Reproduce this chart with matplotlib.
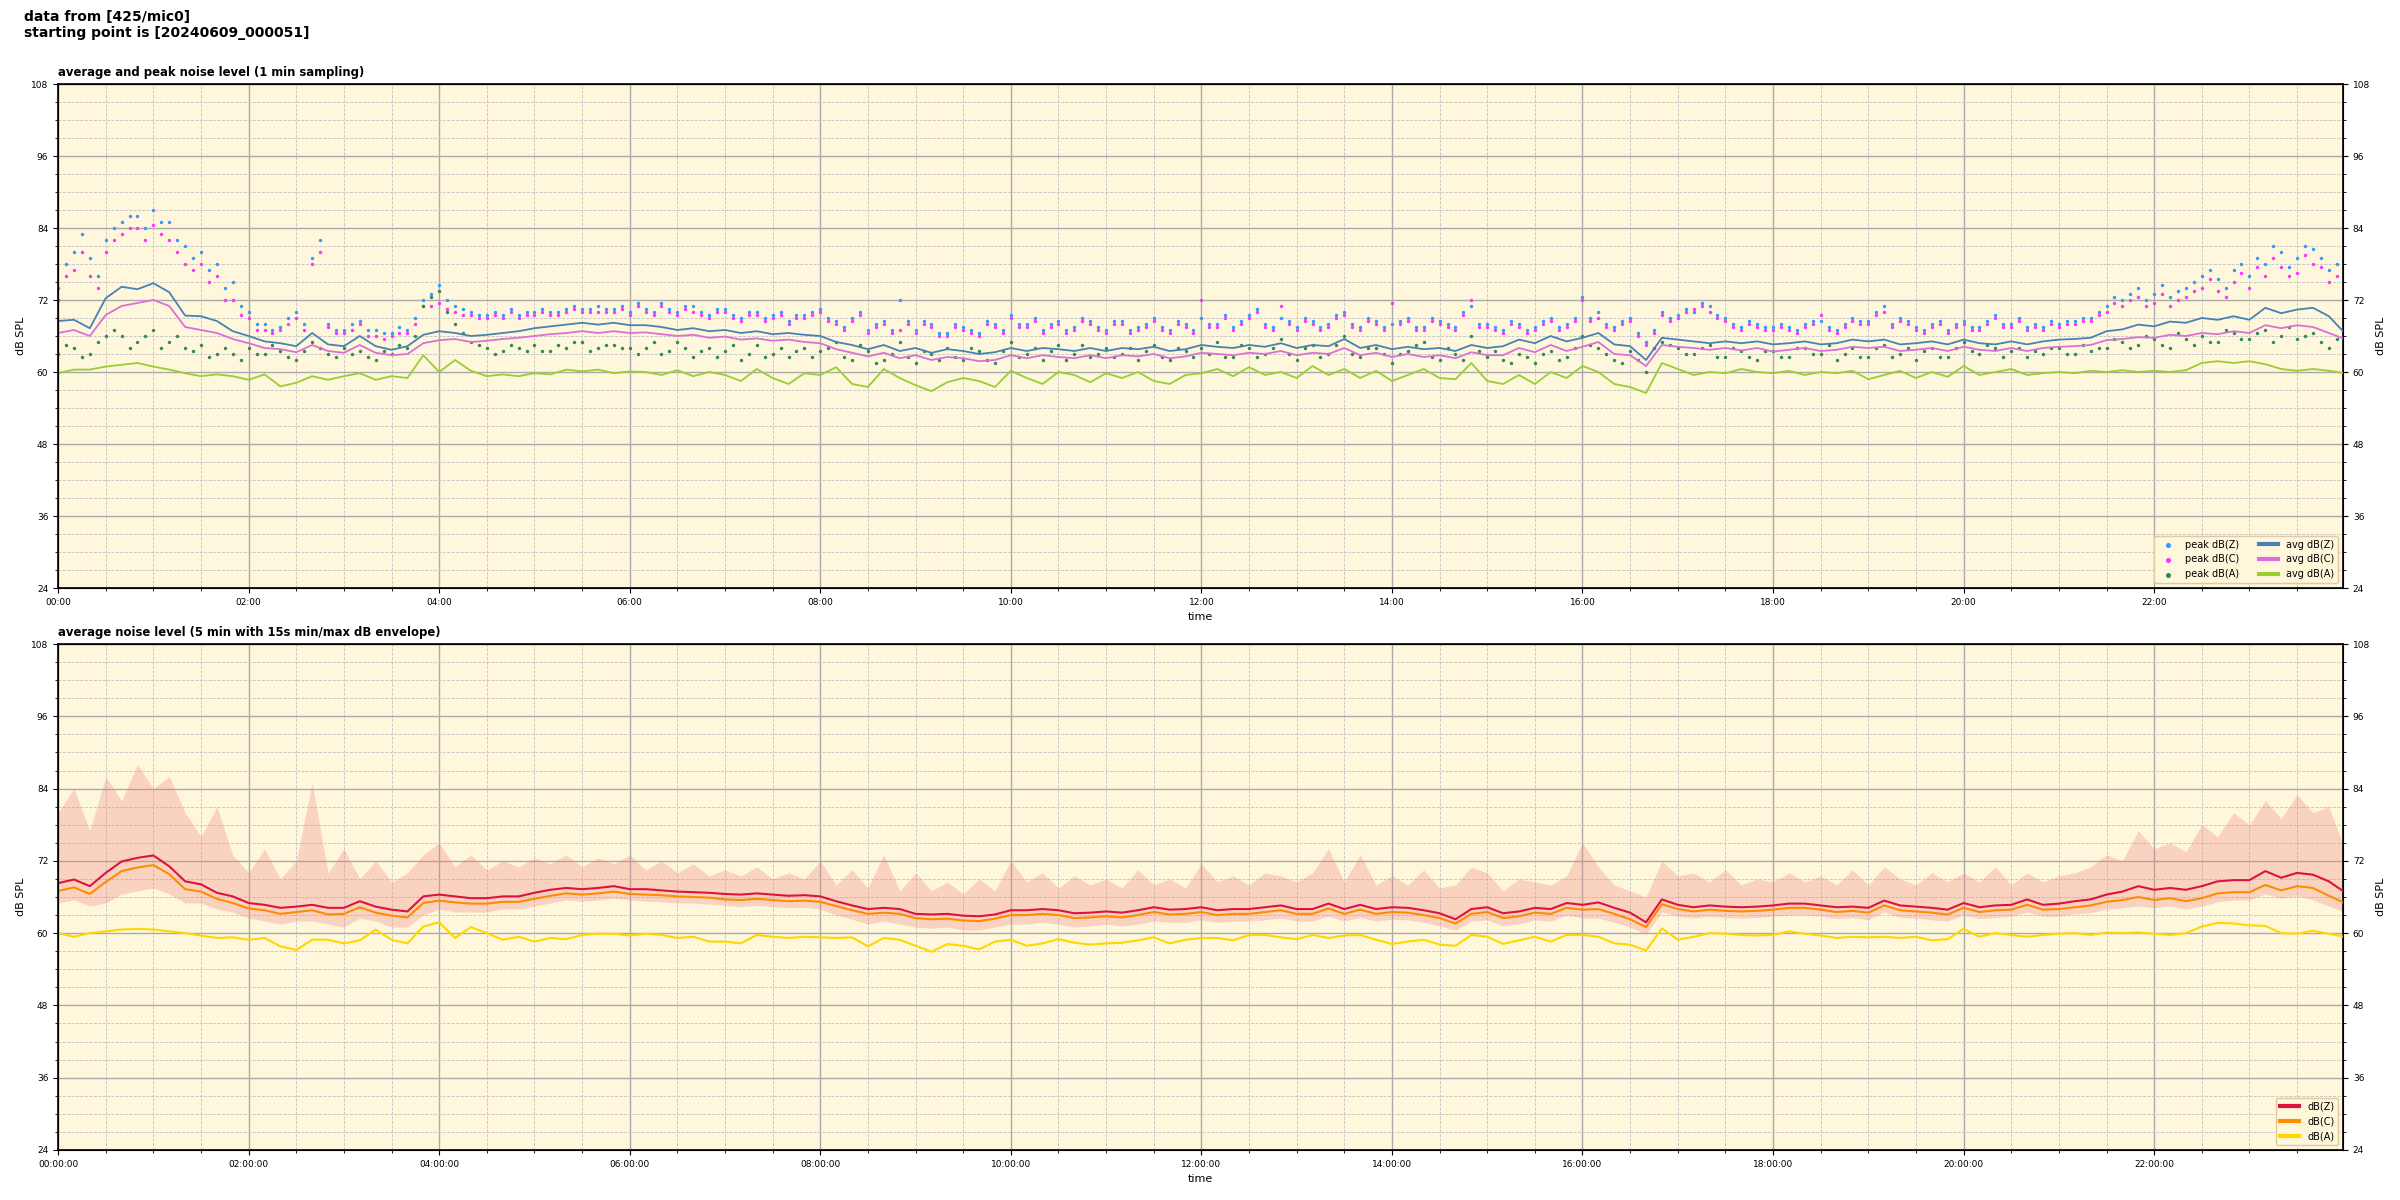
import matplotlib
matplotlib.use("Agg")
import matplotlib.pyplot as plt
import matplotlib.dates as mdates
from matplotlib.ticker import MultipleLocator
import pandas as pd

# sample times: every 10 minutes over the day (145 points, 00:00 .. 24:00)
times = pd.date_range("2024-06-09 00:00", "2024-06-10 00:00", freq="10min")
# extra peak readings taken halfway between (00:05 .. 23:55)
times_mid = pd.date_range("2024-06-09 00:05", "2024-06-09 23:55", freq="10min")

# ---- top panel: 1 min sampling (read at 10 min steps) ----
avg_z = [
    68.5, 68.7, 67.3, 72.3, 74.2, 73.8,
    74.8, 73.3, 69.4, 69.3, 68.5, 66.8,
    66.0, 65.1, 64.8, 64.3, 66.5, 64.6,
    64.3, 66.0, 64.3, 63.7, 64.3, 66.2,
    66.8, 66.5, 66.0, 66.2, 66.5, 66.8,
    67.3, 67.6, 67.9, 68.2, 67.9, 68.2,
    67.8, 67.8, 67.5, 67.0, 67.3, 66.8,
    67.0, 66.5, 66.8, 66.3, 66.5, 66.2,
    66.0, 65.0, 64.5, 63.8, 64.5, 63.5,
    64.0, 63.2, 63.8, 63.5, 63.0, 63.3,
    64.0, 63.5, 64.0, 63.8, 63.5, 64.0,
    63.5, 64.0, 63.8, 64.2, 63.5, 63.8,
    64.5, 64.2, 64.0, 64.5, 64.2, 64.8,
    64.0, 64.5, 64.3, 65.5, 64.0, 64.5,
    63.8, 64.2, 63.8, 64.0, 63.5, 64.5,
    64.0, 64.3, 65.4, 64.8, 66.0, 65.1,
    65.7, 66.5, 64.6, 64.3, 62.0, 65.7,
    65.4, 65.1, 64.8, 65.1, 64.8, 65.1,
    64.6, 64.8, 65.1, 64.6, 64.8, 65.4,
    65.1, 65.4, 64.6, 64.8, 65.1, 64.6,
    65.4, 64.8, 64.6, 65.1, 64.6, 65.1,
    65.4, 65.5, 65.7, 66.8, 67.1, 67.9,
    67.6, 68.4, 68.2, 69.0, 68.7, 69.3,
    68.7, 70.7, 69.8, 70.4, 70.7, 69.3,
    66.5,
]
avg_c = [
    66.5, 67.0, 66.0, 69.5, 71.0, 71.5,
    72.0, 71.0, 67.5, 67.0, 66.5, 65.5,
    64.8, 64.0, 63.8, 63.3, 64.5, 63.5,
    63.2, 64.5, 63.2, 62.8, 63.0, 64.8,
    65.3, 65.5, 65.0, 65.2, 65.5, 65.7,
    66.0, 66.3, 66.5, 66.8, 66.5, 66.8,
    66.5, 66.6, 66.3, 66.0, 66.2, 65.7,
    65.9, 65.4, 65.6, 65.2, 65.4, 65.0,
    64.8, 63.8, 63.2, 62.6, 63.2, 62.3,
    62.8, 62.0, 62.5, 62.3, 61.8, 62.0,
    62.8, 62.3, 62.8, 62.5, 62.3, 62.8,
    62.3, 62.8, 62.6, 63.0, 62.3, 62.6,
    63.2, 63.0, 62.8, 63.2, 63.0, 63.5,
    62.8, 63.2, 63.0, 64.0, 62.8, 63.2,
    62.5, 63.0, 62.5, 62.8, 62.3, 63.3,
    62.8, 62.8, 64.0, 63.3, 64.5, 63.5,
    64.2, 65.0, 63.0, 62.8, 61.0, 64.5,
    64.2, 64.0, 63.7, 64.0, 63.6, 64.0,
    63.4, 63.7, 64.0, 63.5, 63.7, 64.2,
    64.0, 64.2, 63.5, 63.7, 64.0, 63.5,
    64.2, 63.7, 63.5, 64.0, 63.5, 64.0,
    64.2, 64.3, 64.5, 65.3, 65.5, 65.8,
    65.7, 66.2, 66.0, 66.5, 66.3, 66.8,
    66.5, 67.8, 67.3, 67.8, 67.5, 66.5,
    65.5,
]
avg_a = [
    59.8, 60.4, 60.4, 60.9, 61.2, 61.5,
    60.9, 60.4, 59.8, 59.3, 59.6, 59.3,
    58.7, 59.6, 57.6, 58.2, 59.3, 58.7,
    59.3, 59.8, 58.7, 59.3, 59.0, 62.8,
    60.0, 62.0, 60.2, 59.3, 59.6, 59.3,
    59.8, 59.6, 60.4, 60.1, 60.4, 59.8,
    60.1, 60.0, 59.5, 60.3, 59.3, 60.0,
    59.5, 58.5, 60.5, 59.0, 58.0, 59.8,
    59.5, 60.8, 58.0, 57.5, 60.5, 59.0,
    57.8, 56.8, 58.3, 59.0, 58.5, 57.5,
    60.2, 59.0, 58.0, 60.0, 59.5, 58.3,
    59.8, 59.0, 60.0, 58.5, 58.0, 59.5,
    59.8, 60.5, 59.3, 60.8, 59.5, 60.0,
    59.0, 61.0, 59.5, 60.5, 59.0, 60.2,
    58.5, 59.5, 60.5, 59.0, 58.8, 61.5,
    58.5, 58.0, 59.5, 58.0, 60.0, 59.0,
    61.0, 60.0, 58.0, 57.5, 56.5, 61.5,
    60.5, 59.5, 60.0, 59.8, 60.5, 60.0,
    59.8, 60.2, 59.5, 60.0, 59.8, 60.2,
    58.8, 59.5, 60.2, 59.0, 60.0, 59.2,
    61.0, 59.5, 60.0, 60.5, 59.5, 59.8,
    60.0, 59.8, 60.2, 60.0, 60.3, 60.0,
    60.2, 60.0, 60.3, 61.5, 61.8, 61.5,
    61.8, 61.3, 60.5, 60.2, 60.5, 60.2,
    59.8,
]
peak_z = [
    74.0, 80.0, 79.0, 82.0, 85.0, 86.0,
    87.0, 85.0, 81.0, 80.0, 78.0, 75.0,
    70.0, 68.0, 67.5, 70.0, 79.0, 68.0,
    67.0, 68.5, 67.0, 66.5, 67.0, 72.0,
    74.5, 71.0, 70.0, 69.5, 69.5, 69.5,
    70.0, 70.0, 70.5, 70.5, 71.0, 70.5,
    70.0, 70.5, 71.5, 70.0, 71.0, 69.5,
    70.5, 69.0, 70.0, 69.5, 68.5, 69.5,
    70.5, 68.5, 69.0, 67.0, 68.5, 72.0,
    67.0, 68.0, 66.5, 67.5, 66.5, 68.0,
    69.5, 68.0, 67.0, 68.5, 67.5, 68.5,
    67.0, 68.5, 67.5, 69.0, 67.0, 68.0,
    69.0, 68.0, 67.5, 69.5, 68.0, 69.0,
    67.5, 68.5, 68.0, 70.0, 67.5, 68.5,
    68.0, 69.0, 67.5, 68.5, 67.5, 71.0,
    68.0, 67.0, 68.0, 67.5, 69.0, 68.0,
    72.5, 70.0, 67.5, 69.0, 65.0, 70.0,
    69.5, 70.0, 71.0, 69.0, 67.5, 68.0,
    67.5, 67.5, 68.0, 68.5, 67.0, 69.0,
    68.5, 71.0, 69.0, 67.5, 68.0, 67.0,
    68.5, 67.5, 69.5, 68.0, 67.5, 67.5,
    68.0, 68.5, 69.0, 71.0, 72.0, 74.0,
    73.0, 72.5, 74.0, 76.0, 75.5, 77.0,
    76.0, 78.0, 80.0, 79.0, 80.5, 77.0,
    72.0,
]
peak_z_mid = [
    78.0, 83.0, 76.0, 84.0, 86.0, 84.0,
    85.0, 82.0, 79.0, 77.0, 74.0, 71.0,
    68.0, 67.0, 69.0, 68.0, 82.0, 67.0,
    68.0, 67.0, 66.5, 67.5, 69.0, 73.0,
    72.0, 70.5, 69.5, 70.0, 70.5, 70.0,
    70.5, 70.0, 71.0, 70.5, 70.5, 71.0,
    71.5, 70.0, 70.5, 71.0, 70.0, 70.5,
    69.5, 70.0, 69.0, 70.0, 69.5, 70.0,
    69.0, 67.5, 70.0, 68.0, 67.0, 68.5,
    68.5, 66.5, 68.0, 67.0, 68.5, 67.0,
    68.0, 69.0, 68.0, 67.0, 69.0, 67.5,
    68.5, 67.0, 68.0, 67.5, 68.5, 67.0,
    68.0, 69.5, 68.5, 70.5, 67.5, 68.5,
    69.0, 67.5, 69.5, 68.0, 69.0, 67.5,
    68.5, 67.5, 69.0, 68.0, 70.0, 68.0,
    67.5, 68.5, 67.0, 68.5, 67.5, 69.0,
    69.0, 68.0, 68.5, 66.5, 67.0, 69.0,
    70.5, 71.5, 69.5, 68.0, 68.5, 67.5,
    68.0, 67.0, 68.5, 67.5, 68.0, 68.5,
    70.0, 68.0, 68.5, 67.0, 68.5, 68.0,
    67.5, 68.5, 68.0, 69.0, 68.0, 68.5,
    68.5, 69.0, 70.0, 72.5, 73.0, 72.0,
    74.5, 73.5, 75.0, 77.0, 74.0, 78.0,
    79.0, 81.0, 77.5, 81.0, 79.0, 78.0,
]
peak_c = [
    72.0, 77.0, 76.0, 80.0, 83.0, 84.0,
    84.5, 82.0, 78.0, 78.0, 76.0, 72.0,
    69.0, 67.0, 67.0, 69.0, 78.0, 67.5,
    66.5, 68.0, 66.0, 66.0, 66.5, 71.0,
    71.5, 70.0, 69.5, 69.0, 69.0, 69.0,
    69.5, 69.5, 70.0, 70.0, 70.0, 70.0,
    69.5, 70.0, 71.0, 69.5, 70.0, 69.0,
    70.0, 68.5, 69.5, 69.0, 68.0, 69.0,
    70.0, 68.0, 68.5, 66.5, 68.0, 67.0,
    66.5, 67.5, 66.0, 67.0, 66.0, 67.5,
    69.0, 67.5, 66.5, 68.0, 67.0, 68.0,
    66.5, 68.0, 67.0, 68.5, 66.5, 67.5,
    72.0, 67.5, 67.0, 69.0, 67.5, 71.0,
    67.0, 68.0, 67.5, 69.5, 67.0, 68.0,
    71.5, 68.5, 67.0, 68.0, 67.0, 72.0,
    67.5, 66.5, 67.5, 67.0, 68.5, 67.5,
    72.0, 69.0, 67.0, 68.5, 64.5, 69.5,
    69.0, 70.5, 70.0, 68.5, 67.0, 67.5,
    67.0, 67.0, 67.5, 69.5, 66.5, 68.5,
    68.0, 70.0, 68.5, 67.0, 67.5, 66.5,
    68.0, 67.0, 69.0, 67.5, 67.0, 67.0,
    67.5, 68.0, 68.5, 70.0, 71.0, 72.5,
    71.5, 71.0, 72.5, 74.0, 73.5, 75.0,
    74.0, 76.0, 77.5, 76.5, 78.0, 75.0,
    70.0,
]
peak_c_mid = [
    76.0, 80.0, 74.0, 82.0, 84.0, 82.0,
    83.0, 80.0, 77.0, 75.0, 72.0, 69.5,
    67.0, 66.5, 68.0, 67.0, 80.0, 66.5,
    67.0, 66.0, 65.5, 66.5, 68.0, 71.0,
    70.5, 69.5, 69.0, 69.5, 70.0, 69.5,
    70.0, 69.5, 70.5, 70.0, 70.0, 70.5,
    71.0, 69.5, 70.0, 70.5, 69.5, 70.0,
    69.0, 69.5, 68.5, 69.5, 69.0, 69.5,
    68.5, 67.0, 69.5, 67.5, 66.5, 68.0,
    68.0, 66.0, 67.5, 66.5, 68.0, 66.5,
    67.5, 68.5, 67.5, 66.5, 68.5, 67.0,
    68.0, 66.5, 67.5, 67.0, 68.0, 66.5,
    67.5, 69.0, 68.0, 70.0, 67.0, 68.0,
    68.5, 67.0, 69.0, 67.5, 68.5, 67.0,
    68.0, 67.0, 68.5, 67.5, 69.5, 67.5,
    67.0, 68.0, 66.5, 68.0, 67.0, 68.5,
    68.5, 67.5, 68.0, 66.0, 66.5, 68.5,
    70.0, 71.0, 69.0, 67.5, 68.0, 67.0,
    67.5, 66.5, 68.0, 67.0, 67.5, 68.0,
    69.5, 67.5, 68.0, 66.5, 68.0, 67.5,
    67.0, 68.0, 67.5, 68.5, 67.5, 68.0,
    68.0, 68.5, 69.5, 71.5, 72.0, 71.0,
    73.0, 72.0, 73.5, 75.5, 72.5, 76.5,
    77.5, 79.0, 76.0, 79.5, 77.5, 76.0,
]
peak_a = [
    63.0, 64.0, 63.0, 66.0, 66.0, 65.0,
    67.0, 65.0, 64.0, 64.5, 63.0, 63.0,
    64.0, 63.0, 63.5, 62.0, 65.0, 63.0,
    64.0, 63.5, 62.0, 63.0, 64.0, 71.0,
    73.5, 68.0, 65.0, 64.0, 63.5, 64.0,
    64.5, 63.5, 64.0, 65.0, 64.0, 64.5,
    64.0, 64.0, 63.0, 65.0, 62.5, 64.0,
    63.5, 62.0, 64.5, 63.0, 62.5, 64.0,
    63.5, 65.0, 62.0, 63.5, 62.0, 65.0,
    61.5, 63.0, 64.0, 62.0, 63.5, 61.5,
    65.0, 63.0, 62.0, 64.5, 63.0, 62.5,
    64.0, 63.0, 62.0, 64.5, 62.0, 63.5,
    64.0, 65.0, 62.5, 64.0, 63.0, 65.5,
    62.0, 64.5, 63.0, 66.0, 62.5, 64.0,
    61.5, 63.5, 65.0, 62.0, 63.0, 66.0,
    62.5, 62.0, 63.0, 61.5, 63.5, 62.5,
    66.0, 64.0, 62.0, 63.5, 60.0, 65.0,
    64.0, 63.0, 64.5, 62.5, 63.5, 62.0,
    63.5, 62.5, 64.0, 63.0, 62.0, 64.0,
    62.5, 64.5, 63.0, 62.0, 64.0, 62.5,
    65.0, 63.0, 64.0, 63.5, 62.5, 63.0,
    64.0, 63.0, 63.5, 64.0, 65.0, 64.5,
    65.5, 64.0, 65.5, 66.0, 65.0, 66.5,
    65.5, 67.0, 66.0, 65.5, 66.5, 64.0,
    63.5,
]
peak_a_mid = [
    64.5, 62.5, 65.0, 67.0, 64.0, 66.0,
    64.0, 66.0, 63.5, 62.5, 64.0, 62.0,
    63.0, 64.5, 62.5, 63.5, 64.0, 62.5,
    63.0, 62.5, 63.5, 64.5, 66.0, 72.5,
    70.0, 66.5, 64.5, 63.0, 64.5, 63.5,
    63.5, 64.5, 65.0, 63.5, 64.5, 64.0,
    63.0, 65.0, 63.5, 64.0, 63.5, 62.5,
    64.5, 63.0, 62.5, 64.0, 63.5, 62.5,
    64.0, 62.5, 64.5, 61.5, 63.0, 62.5,
    63.5, 62.0, 62.5, 64.0, 62.0, 63.5,
    62.5, 64.0, 63.5, 62.0, 64.5, 63.0,
    62.5, 64.0, 63.5, 62.5, 64.0, 62.5,
    63.0, 62.5, 64.5, 62.5, 64.0, 63.0,
    64.0, 62.5, 64.5, 63.0, 64.0, 63.0,
    63.0, 64.5, 62.5, 64.0, 62.0, 63.5,
    63.5, 61.5, 62.5, 63.0, 62.0, 64.0,
    64.5, 63.0, 61.5, 62.0, 64.0, 64.5,
    63.0, 64.0, 62.5, 64.0, 62.5, 63.5,
    62.5, 64.0, 63.0, 64.5, 63.0, 62.5,
    64.0, 62.5, 64.0, 63.5, 62.5, 64.0,
    63.5, 64.5, 62.5, 64.0, 63.5, 64.0,
    63.0, 64.5, 64.0, 65.5, 64.0, 66.0,
    64.5, 66.5, 64.5, 65.0, 67.0, 65.5,
    66.5, 65.0, 67.5, 66.0, 65.0, 65.5,
]

# ---- bottom panel: 5 min averages with min/max envelope ----
lvl_z = [
    68.3, 68.9, 67.8, 70.0, 71.9, 72.5,
    72.9, 71.1, 68.6, 68.1, 66.7, 66.1,
    65.0, 64.7, 64.2, 64.4, 64.7, 64.2,
    64.2, 65.3, 64.4, 63.9, 63.6, 66.1,
    66.4, 66.1, 65.8, 65.8, 66.1, 66.1,
    66.7, 67.2, 67.5, 67.3, 67.5, 67.8,
    67.3, 67.3, 67.1, 66.9, 66.8, 66.7,
    66.5, 66.4, 66.6, 66.4, 66.2, 66.3,
    66.1, 65.3, 64.6, 64.0, 64.2, 64.0,
    63.2, 63.1, 63.2, 62.9, 62.8, 63.1,
    63.8, 63.8, 64.0, 63.8, 63.3, 63.4,
    63.6, 63.4, 63.8, 64.3, 63.9, 64.0,
    64.3, 63.8, 64.0, 64.0, 64.3, 64.6,
    64.0, 64.0, 64.9, 64.0, 64.7, 64.0,
    64.3, 64.2, 63.8, 63.3, 62.3, 64.0,
    64.3, 63.3, 63.6, 64.2, 64.0, 65.0,
    64.7, 65.1, 64.2, 63.4, 61.8, 65.6,
    64.7, 64.3, 64.6, 64.4, 64.3, 64.4,
    64.6, 64.9, 64.9, 64.6, 64.3, 64.4,
    64.2, 65.4, 64.6, 64.4, 64.2, 63.9,
    65.0, 64.3, 64.6, 64.7, 65.6, 64.7,
    64.9, 65.3, 65.6, 66.4, 66.9, 67.8,
    67.2, 67.5, 67.2, 67.8, 68.6, 68.8,
    68.8, 70.3, 69.2, 70.0, 69.7, 68.6,
    66.8,
]
lvl_c = [
    67.0, 67.6, 66.5, 68.5, 70.3, 70.9,
    71.3, 69.8, 67.3, 66.9, 65.7, 65.0,
    64.1, 63.8, 63.2, 63.5, 63.8, 63.1,
    63.2, 64.3, 63.4, 62.9, 62.6, 65.0,
    65.4, 65.1, 64.9, 64.9, 65.2, 65.2,
    65.7, 66.2, 66.6, 66.4, 66.6, 66.9,
    66.5, 66.4, 66.3, 66.1, 66.0, 65.9,
    65.6, 65.5, 65.7, 65.5, 65.3, 65.4,
    65.2, 64.5, 63.8, 63.2, 63.4, 63.2,
    62.5, 62.3, 62.4, 62.1, 62.0, 62.4,
    63.0, 63.0, 63.2, 63.0, 62.5, 62.6,
    62.8, 62.6, 63.0, 63.5, 63.1, 63.2,
    63.5, 63.0, 63.2, 63.2, 63.5, 63.8,
    63.2, 63.2, 64.1, 63.2, 63.9, 63.2,
    63.5, 63.4, 63.0, 62.5, 61.6, 63.2,
    63.5, 62.5, 62.8, 63.4, 63.2, 64.2,
    63.9, 64.0, 63.2, 62.3, 61.0, 64.8,
    64.0, 63.6, 63.9, 63.7, 63.6, 63.7,
    63.9, 64.2, 64.2, 63.9, 63.5, 63.7,
    63.4, 64.6, 63.8, 63.6, 63.4, 63.1,
    64.2, 63.5, 63.8, 63.9, 64.7, 63.9,
    64.0, 64.3, 64.6, 65.2, 65.5, 66.0,
    65.5, 65.8, 65.3, 65.8, 66.6, 66.8,
    66.8, 68.0, 67.1, 67.8, 67.5, 66.2,
    65.0,
]
lvl_a = [
    60.0, 59.4, 60.0, 60.3, 60.6, 60.7,
    60.6, 60.3, 60.0, 59.6, 59.2, 59.3,
    58.9, 59.2, 57.8, 57.2, 58.9, 58.9,
    58.3, 58.8, 60.6, 58.9, 58.3, 61.1,
    61.8, 59.2, 61.0, 60.0, 58.9, 59.4,
    58.6, 59.2, 59.0, 59.7, 59.9, 59.9,
    59.6, 59.9, 59.7, 59.2, 59.4, 58.6,
    58.6, 58.3, 59.7, 59.4, 59.2, 59.4,
    59.3, 59.2, 59.3, 57.8, 59.2, 58.9,
    57.9, 56.9, 58.2, 57.9, 57.3, 58.6,
    58.9, 57.9, 58.3, 59.0, 58.4, 58.1,
    58.3, 58.4, 58.8, 59.3, 58.3, 58.9,
    59.2, 59.2, 58.8, 59.7, 59.7, 59.3,
    59.0, 59.7, 59.2, 59.6, 59.7, 58.9,
    58.2, 58.6, 58.9, 58.1, 57.9, 59.7,
    59.4, 58.2, 58.8, 59.4, 58.6, 59.7,
    59.7, 59.4, 58.3, 58.1, 57.1, 60.8,
    58.9, 59.4, 60.0, 59.9, 59.7, 59.6,
    59.7, 60.3, 59.9, 59.6, 59.2, 59.4,
    59.3, 59.4, 59.2, 59.4, 58.8, 59.0,
    60.7, 59.4, 60.0, 59.7, 59.4, 59.7,
    59.9, 60.0, 59.7, 60.1, 60.0, 60.1,
    59.9, 59.7, 60.0, 61.1, 61.7, 61.6,
    61.3, 61.2, 60.0, 59.9, 60.4, 59.9,
    59.4,
]
env_max = [
    80.0, 84.0, 77.0, 86.0, 82.0, 88.0,
    84.0, 86.0, 80.0, 76.0, 81.0, 73.0,
    70.0, 74.0, 69.0, 72.0, 85.0, 70.0,
    74.0, 69.0, 72.0, 68.5, 70.0, 73.0,
    75.0, 71.0, 73.0, 70.5, 72.0, 71.0,
    72.5, 71.5, 73.0, 71.0, 72.5, 71.5,
    73.0, 70.5, 72.0, 70.0, 71.5, 69.5,
    70.5, 69.5, 71.0, 69.0, 70.0, 69.0,
    72.0, 68.0, 70.5, 67.5, 73.0, 67.0,
    70.0, 67.0, 68.5, 66.5, 69.0, 67.0,
    72.0, 68.5, 70.0, 67.5, 69.5, 68.0,
    69.0, 67.5, 70.5, 68.0, 69.0, 67.5,
    71.5, 68.5, 69.5, 68.0, 70.0, 69.5,
    68.5, 70.0, 74.0, 68.5, 73.0, 68.0,
    69.5, 68.0, 70.5, 67.5, 68.0, 71.0,
    70.0, 67.0, 69.0, 68.5, 68.0, 69.5,
    75.0, 71.0, 68.0, 67.0, 66.0, 72.0,
    69.5, 70.0, 68.5, 70.5, 68.0, 69.0,
    68.5, 70.0, 68.5, 69.5, 68.0, 70.5,
    68.0, 71.0, 69.0, 68.0, 70.0, 68.5,
    70.0, 68.5, 71.0, 68.0, 70.0, 68.5,
    69.5, 70.0, 71.0, 73.0, 72.0, 77.0,
    74.0, 75.0, 73.5, 78.0, 76.0, 80.0,
    78.0, 82.0, 79.0, 83.0, 80.0, 81.0,
    74.0,
]
env_min = [
    65.0, 65.5, 64.5, 65.0, 66.5, 67.0,
    67.5, 66.5, 65.0, 65.0, 64.0, 63.5,
    62.5, 62.0, 61.5, 62.0, 62.0, 61.5,
    61.0, 62.5, 62.0, 61.0, 61.0, 63.0,
    64.0, 63.5, 63.5, 63.5, 64.0, 64.0,
    64.5, 65.0, 65.5, 65.3, 65.5, 65.8,
    65.5, 65.3, 65.2, 65.0, 65.0, 64.8,
    64.6, 64.4, 64.6, 64.4, 64.2, 64.3,
    64.0, 63.0, 62.3, 61.5, 62.0, 61.5,
    61.0, 60.8, 61.0, 60.5, 60.5, 61.0,
    61.5, 61.5, 61.8, 61.5, 61.0, 61.2,
    61.5, 61.2, 61.5, 62.0, 61.8, 61.8,
    62.2, 61.8, 62.0, 62.0, 62.2, 62.5,
    62.0, 62.0, 62.8, 62.0, 62.6, 62.0,
    62.3, 62.2, 61.8, 61.2, 60.5, 62.0,
    62.2, 61.2, 61.5, 62.2, 62.0, 63.0,
    62.5, 62.5, 61.8, 61.0, 59.8, 63.5,
    62.8, 62.5, 62.8, 62.6, 62.5, 62.6,
    62.8, 63.0, 63.0, 62.8, 62.4, 62.6,
    62.2, 63.5, 62.6, 62.5, 62.2, 62.0,
    63.0, 62.4, 62.6, 62.8, 63.5, 62.8,
    62.8, 63.2, 63.4, 64.0, 64.2, 64.5,
    64.2, 64.5, 64.0, 64.5, 65.2, 65.5,
    65.5, 66.5, 65.8, 66.2, 65.5, 64.5,
    63.5,
]

BG = "#fff7dc"
t0 = pd.Timestamp("2024-06-09 00:00")
t1 = pd.Timestamp("2024-06-09 23:59")


def style_axis(ax, title, fmt):
    ax.set_facecolor(BG)
    ax.set_xlim(t0, t1)
    ax.set_ylim(24, 108)
    ax.yaxis.set_major_locator(MultipleLocator(12))
    ax.yaxis.set_minor_locator(MultipleLocator(3))
    ax.xaxis.set_major_locator(mdates.HourLocator(byhour=range(0, 24, 2)))
    ax.xaxis.set_minor_locator(mdates.MinuteLocator(byminute=[0, 30]))
    ax.xaxis.set_major_formatter(mdates.DateFormatter(fmt))
    ax.grid(which="major", color="#aaaaaa", lw=1.0)
    ax.grid(which="minor", color="#c2c2c2", ls="--", lw=0.6)
    ax.set_axisbelow(True)
    ax.tick_params(labelsize=6.5)
    ax.set_title(title, loc="left", fontsize=8.4, fontweight="bold")
    ax.set_xlabel("time", fontsize=8)
    ax.set_ylabel("dB SPL", fontsize=8)
    for s in ax.spines.values():
        s.set_linewidth(1.2)
    tw = ax.twinx()
    tw.set_ylim(24, 108)
    tw.yaxis.set_major_locator(MultipleLocator(12))
    tw.yaxis.set_minor_locator(MultipleLocator(3))
    tw.tick_params(labelsize=6.5)
    tw.set_ylabel("dB SPL", fontsize=8)


fig = plt.figure(figsize=(24, 12), dpi=100)
fig.text(0.01, 0.992, "data from [425/mic0]\nstarting point is [20240609_000051]",
         ha="left", va="top", fontsize=10, fontweight="bold")

ax1 = fig.add_axes([0.0242, 0.51, 0.9521, 0.42])
ax2 = fig.add_axes([0.0242, 0.0417, 0.9521, 0.4216])

# top: peaks as small dots, averages as lines
ax1.scatter(times, peak_z, s=6, color="#3399ff", lw=0, label="peak dB(Z)", zorder=2)
ax1.scatter(times, peak_c, s=6, color="#ff33ff", lw=0, label="peak dB(C)", zorder=2)
ax1.scatter(times, peak_a, s=6, color="#2e8b57", lw=0, label="peak dB(A)", zorder=2)
ax1.scatter(times_mid, peak_z_mid, s=6, color="#3399ff", lw=0, zorder=2)
ax1.scatter(times_mid, peak_c_mid, s=6, color="#ff33ff", lw=0, zorder=2)
ax1.scatter(times_mid, peak_a_mid, s=6, color="#2e8b57", lw=0, zorder=2)
ax1.plot(times, avg_z, color="#4682b4", lw=1.3, label="avg dB(Z)", zorder=3)
ax1.plot(times, avg_c, color="#da70d6", lw=1.3, label="avg dB(C)", zorder=3)
ax1.plot(times, avg_a, color="#9acd32", lw=1.3, label="avg dB(A)", zorder=3)
style_axis(ax1, "average and peak noise level (1 min sampling)", "%H:%M")
leg1 = ax1.legend(loc="lower right", ncol=2, fontsize=7, facecolor=BG,
                  edgecolor="#e3c9a0", framealpha=1, markerscale=1.5)
for ln in leg1.get_lines():
    ln.set_linewidth(3)

# bottom: envelope + level lines
ax2.fill_between(times, env_min, env_max, color="lightcoral", alpha=0.3, lw=0, zorder=2)
ax2.plot(times, lvl_z, color="#dc143c", lw=1.5, label="dB(Z)", zorder=3)
ax2.plot(times, lvl_c, color="#ff8c00", lw=1.5, label="dB(C)", zorder=3)
ax2.plot(times, lvl_a, color="#ffd700", lw=1.5, label="dB(A)", zorder=3)
style_axis(ax2, "average noise level (5 min with 15s min/max dB envelope)", "%H:%M:%S")
leg2 = ax2.legend(loc="lower right", fontsize=7, facecolor=BG,
                  edgecolor="#e3c9a0", framealpha=1)
for ln in leg2.get_lines():
    ln.set_linewidth(3)

fig.savefig("out.png", dpi=100)
